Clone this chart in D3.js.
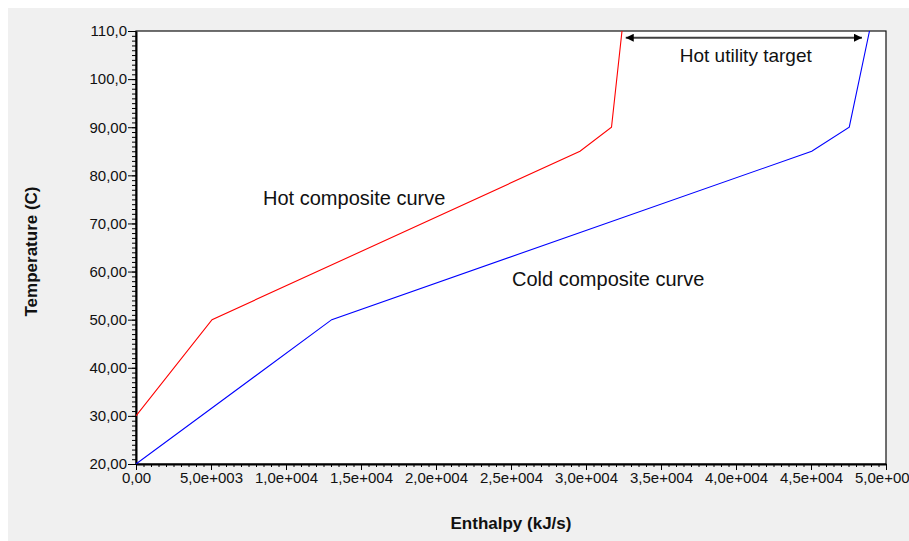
<!DOCTYPE html>
<html>
<head>
<meta charset="utf-8">
<script src="https://cdn.jsdelivr.net/npm/d3@7"></script>
<style>
body { margin: 0; background: #fff; }
text { font-family: "Liberation Sans", Arial, sans-serif; }
</style>
</head>
<body>
<div id="chart"></div>
<script>
// composite curves: enthalpy (kJ/s) vs temperature (C)
const hotH = [0, 5070, 29600, 31700, 32400]
const hotT = [30, 50, 85, 90, 110]
const coldH = [0, 13050, 45050, 47550, 48900]
const coldT = [20, 50, 85, 90, 110]

const xTicks = [0, 5000, 10000, 15000, 20000, 25000, 30000, 35000, 40000, 45000, 50000]
const xTickLabels = ["0,00", "5,0e+003", "1,0e+004", "1,5e+004", "2,0e+004", "2,5e+004",
                     "3,0e+004", "3,5e+004", "4,0e+004", "4,5e+004", "5,0e+004"]
const yTicks = [20, 30, 40, 50, 60, 70, 80, 90, 100, 110]
const yTickLabels = ["20,00", "30,00", "40,00", "50,00", "60,00", "70,00", "80,00", "90,00", "100,0", "110,0"]

// hot utility target arrow (enthalpy range) and annotations
const utilityH = [32650, 48400]
const utilityT = 108.6
const notes = [
    {text: "Hot composite curve", h: 8470, t: 73.8, anchor: "start", size: 20},
    {text: "Cold composite curve", h: 25070, t: 57.0, anchor: "start", size: 20},
    {text: "Hot utility target", h: 40650, t: 103.6, anchor: "middle", size: 19}
]

var margin = {top: 31, right: 23, bottom: 77, left: 136}
var W = 909, H = 541
var width = W - margin.left - margin.right
var height = H - margin.top - margin.bottom

var svg = d3.select("#chart").append("svg")
    .attr("width", W)
    .attr("height", H)

svg.append("rect")
    .attr("x", 8).attr("y", 8)
    .attr("width", W - 8).attr("height", H - 8)
    .attr("fill", "#f0f0f0")

var g = svg.append("g")
    .attr("transform", `translate(${margin.left}, ${margin.top})`)

g.append("rect")
    .attr("width", width).attr("height", height)
    .attr("fill", "#fff")
    .attr("stroke", "#111")
    .attr("stroke-width", 1.2)

var x = d3.scaleLinear().domain([0, 50000]).range([0, width])
var y = d3.scaleLinear().domain([20, 110]).range([height, 0])

// minor ticks
g.append("g")
    .attr("transform", `translate(0, ${height})`)
    .call(d3.axisBottom(x).tickValues(d3.range(0, 50001, 500)).tickSize(3).tickFormat(""))
    .call(a => a.select(".domain").remove())
g.append("g")
    .call(d3.axisLeft(y).tickValues(d3.range(20, 111, 1)).tickSize(4).tickFormat(""))
    .call(a => a.select(".domain").remove())

// major ticks
var xAxis = g.append("g")
    .attr("transform", `translate(0, ${height})`)
    .call(d3.axisBottom(x).tickValues(xTicks).tickSize(6).tickSizeOuter(0).tickPadding(2)
        .tickFormat((d, i) => xTickLabels[i]))
var yAxis = g.append("g")
    .call(d3.axisLeft(y).tickValues(yTicks).tickSize(8).tickSizeOuter(0).tickPadding(1)
        .tickFormat((d, i) => yTickLabels[i]))

svg.selectAll(".tick text")
    .style("font-size", "15px")
    .attr("fill", "#111")
svg.selectAll(".domain").attr("stroke-width", 2)

g.append("clipPath").attr("id", "clip")
    .append("rect").attr("width", width).attr("height", height)

var line = d3.line()
    .x(d => x(d[0]))
    .y(d => y(d[1]))

g.append("path")
    .datum(d3.zip(hotH, hotT))
    .attr("clip-path", "url(#clip)")
    .attr("fill", "none")
    .attr("stroke", "#ff0000")
    .attr("stroke-width", 1.1)
    .attr("d", line)

g.append("path")
    .datum(d3.zip(coldH, coldT))
    .attr("clip-path", "url(#clip)")
    .attr("fill", "none")
    .attr("stroke", "#0000ff")
    .attr("stroke-width", 1.1)
    .attr("d", line)

// arrow heads
var defs = svg.append("defs")
defs.append("marker")
    .attr("id", "head")
    .attr("viewBox", "0 0 10 10")
    .attr("refX", 10).attr("refY", 5)
    .attr("markerWidth", 4.5).attr("markerHeight", 4)
    .attr("orient", "auto-start-reverse")
    .append("path")
        .attr("d", "M0,0 L10,5 L0,10 Z")
        .attr("fill", "#000")

g.append("line")
    .attr("x1", x(utilityH[0])).attr("x2", x(utilityH[1]))
    .attr("y1", y(utilityT)).attr("y2", y(utilityT))
    .attr("stroke", "#404040")
    .attr("stroke-width", 2)
    .attr("marker-start", "url(#head)")
    .attr("marker-end", "url(#head)")

g.selectAll(".note")
    .data(notes)
    .join("text")
    .attr("class", "note")
    .attr("x", d => x(d.h))
    .attr("y", d => y(d.t))
    .attr("text-anchor", d => d.anchor)
    .style("font-size", d => d.size + "px")
    .attr("fill", "#111")
    .text(d => d.text)

// axis titles
svg.append("text")
    .attr("x", margin.left + width / 2)
    .attr("y", 529)
    .attr("text-anchor", "middle")
    .style("font-size", "17px")
    .style("font-weight", "bold")
    .attr("fill", "#111")
    .text("Enthalpy (kJ/s)")

svg.append("text")
    .attr("transform", `translate(37, ${margin.top + height / 2 + 4}) rotate(-90)`)
    .attr("text-anchor", "middle")
    .style("font-size", "17px")
    .style("font-weight", "bold")
    .attr("fill", "#111")
    .text("Temperature (C)")
</script>
</body>
</html>
